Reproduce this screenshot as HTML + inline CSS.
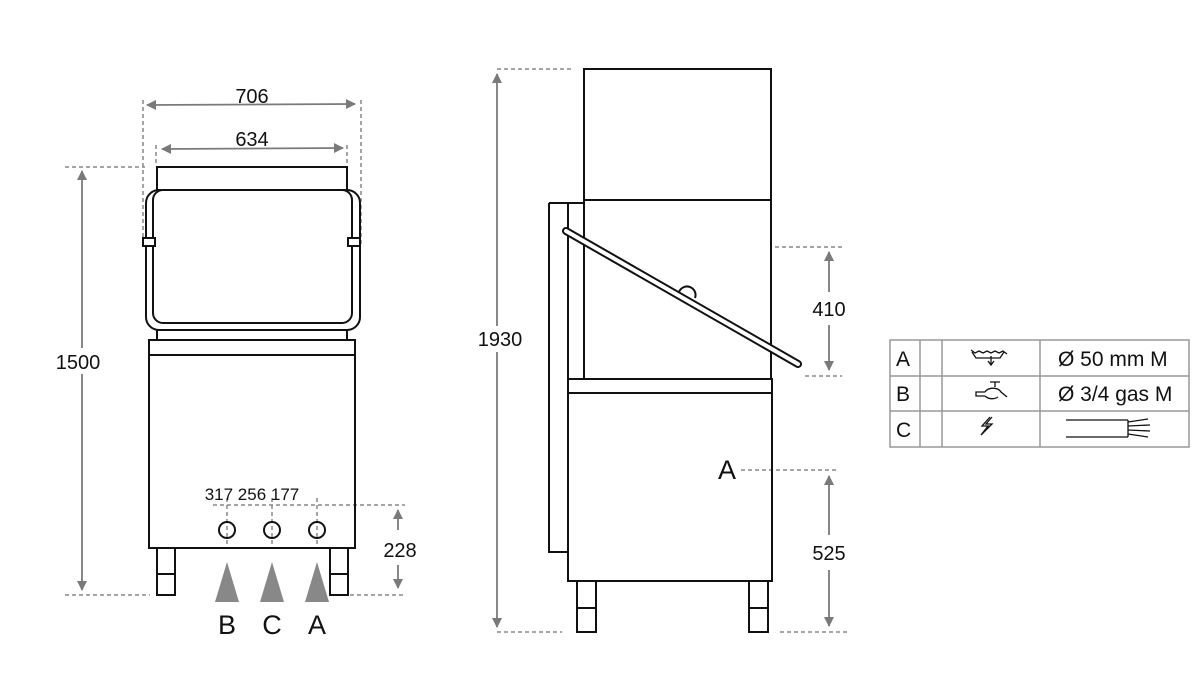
<!DOCTYPE html>
<html><head><meta charset="utf-8"><style>
html,body{margin:0;padding:0;background:#fff;}
svg{display:block;font-family:"Liberation Sans",sans-serif;}
</style></head><body>
<svg width="1200" height="700" viewBox="0 0 1200 700" xmlns="http://www.w3.org/2000/svg">
<defs>
<marker id="ar" viewBox="0 0 10 10" refX="9" refY="5" markerWidth="14" markerHeight="10" markerUnits="userSpaceOnUse" orient="auto-start-reverse">
<path d="M0,0 L10,5 L0,10 z" fill="#7a7a7a"/></marker>
</defs>
<g stroke="#888" stroke-width="1.5" stroke-dasharray="4,3" fill="none">
<line x1="143" y1="100" x2="143" y2="245"/><line x1="361" y1="100" x2="361" y2="245"/>
<line x1="156" y1="145" x2="156" y2="165"/><line x1="347" y1="145" x2="347" y2="165"/>
<line x1="65" y1="167" x2="145" y2="167"/><line x1="65" y1="595" x2="150" y2="595"/>
<line x1="213" y1="505" x2="405" y2="505"/><line x1="350" y1="595" x2="405" y2="595"/>
<line x1="227" y1="498" x2="227" y2="545"/><line x1="272" y1="498" x2="272" y2="545"/><line x1="317" y1="498" x2="317" y2="545"/>
<line x1="497" y1="69" x2="572" y2="69"/><line x1="497" y1="632" x2="562" y2="632"/>
<line x1="775" y1="247" x2="842" y2="247"/><line x1="805" y1="376" x2="842" y2="376"/>
<line x1="741" y1="470" x2="838" y2="470"/><line x1="780" y1="632" x2="850" y2="632"/>
</g>
<g stroke="#7a7a7a" stroke-width="1.8" fill="none">
<line x1="147" y1="105" x2="355" y2="104" marker-start="url(#ar)" marker-end="url(#ar)"/>
<line x1="162" y1="149" x2="343" y2="148" marker-start="url(#ar)" marker-end="url(#ar)"/>
<line x1="82" y1="171" x2="82" y2="590" marker-start="url(#ar)" marker-end="url(#ar)"/>
<line x1="398" y1="510" x2="398" y2="530" marker-start="url(#ar)"/>
<line x1="398" y1="565" x2="398" y2="588" marker-end="url(#ar)"/>
<line x1="497" y1="74" x2="497" y2="627" marker-start="url(#ar)" marker-end="url(#ar)"/>
<line x1="829" y1="252" x2="829" y2="292" marker-start="url(#ar)"/>
<line x1="829" y1="325" x2="829" y2="370" marker-end="url(#ar)"/>
<line x1="829" y1="476" x2="829" y2="535" marker-start="url(#ar)"/>
<line x1="829" y1="570" x2="829" y2="626" marker-end="url(#ar)"/>
</g>
<rect x="54" y="348" width="50" height="26" fill="#fff"/>
<rect x="476" y="326" width="50" height="26" fill="#fff"/>
<g font-size="20" fill="#111" text-anchor="middle">
<text x="252" y="103">706</text><text x="252" y="146">634</text>
<text x="78" y="369">1500</text><text x="400" y="557">228</text>
<text x="500" y="346">1930</text><text x="829" y="316">410</text><text x="829" y="560">525</text>
<text x="252" y="500" font-size="17">317 256 177</text>
<text x="227" y="634" font-size="27">B</text><text x="272" y="634" font-size="27">C</text><text x="317" y="634" font-size="27">A</text>
<text x="727" y="479" font-size="27">A</text>
</g>
<g stroke="#111" stroke-width="2" fill="none">
<rect x="157" y="167" width="190" height="23"/>
<rect x="146" y="190" width="214" height="140" rx="13"/>
<rect x="153" y="190" width="199" height="133" rx="10"/>
<rect x="143" y="238" width="12" height="8" fill="#fff"/><rect x="348" y="238" width="12" height="8" fill="#fff"/>
<line x1="157" y1="330" x2="157" y2="340"/><line x1="347" y1="330" x2="347" y2="340"/>
<rect x="149" y="340" width="206" height="208"/><line x1="149" y1="355" x2="355" y2="355"/>
<rect x="157" y="548" width="18" height="47"/><line x1="157" y1="574" x2="175" y2="574"/>
<rect x="330" y="548" width="18" height="47"/><line x1="330" y1="574" x2="348" y2="574"/>
<circle cx="227" cy="530" r="8"/><circle cx="272" cy="530" r="8"/><circle cx="317" cy="530" r="8"/>
</g>
<g fill="#888">
<polygon points="227,562 215,602 239,602"/><polygon points="272,562 260,602 284,602"/><polygon points="317,562 305,602 329,602"/>
</g>
<g stroke="#111" stroke-width="2" fill="none">
<rect x="584" y="69" width="187" height="131"/>
<line x1="584" y1="200" x2="584" y2="380"/><line x1="771" y1="200" x2="771" y2="380"/>
<line x1="549" y1="203" x2="584" y2="203"/>
<polyline points="549,203 549,552 568,552"/>
<line x1="568" y1="203" x2="568" y2="552"/>
<rect x="568" y="379" width="204" height="202"/><line x1="568" y1="393" x2="772" y2="393"/>
<rect x="577" y="581" width="19" height="51"/><line x1="577" y1="608" x2="596" y2="608"/>
<rect x="749" y="581" width="19" height="51"/><line x1="749" y1="608" x2="768" y2="608"/>
<path d="M679,292 a8,8 0 0 1 16,6"/>
<line x1="566" y1="231" x2="798" y2="364" stroke-width="8" stroke-linecap="round"/>
<line x1="566" y1="231" x2="798" y2="364" stroke="#fff" stroke-width="4" stroke-linecap="round"/>
</g>
<g stroke="#999" stroke-width="1.5" fill="none">
<rect x="890" y="340" width="299" height="107"/>
<line x1="890" y1="376" x2="1189" y2="376"/><line x1="890" y1="411" x2="1189" y2="411"/>
<line x1="920" y1="340" x2="920" y2="447"/><line x1="942" y1="340" x2="942" y2="447"/><line x1="1040" y1="340" x2="1040" y2="447"/>
</g>
<g font-size="21" fill="#111">
<text x="896" y="366">A</text><text x="896" y="401">B</text><text x="896" y="437">C</text>
<text x="1058" y="366">Ø 50 mm M</text><text x="1058" y="401">Ø 3/4 gas M</text>
</g>
<g stroke="#111" stroke-width="1.3" fill="none">
<path d="M971,350 l4,3 l4,-2 l4,2 l4,-2 l4,2 l4,-2 l4,2 l4,-2 l4,3 M972,352 l4,6 h24 l4,-6 M991,356 v8 M988,361 l3,4 l3,-4"/>
<path d="M990,382 h10 M995,382 v5 M985,392 h-9 v4 h9 M985,392 a9,7 0 0 1 16,0 l6,5 M985,396 a9,7 0 0 0 13,1"/>
<path d="M990,417 l-8,9 l6,0 l-7,9 l11,-11 l-6,0 l6,-7"/>
<path d="M1066,420 h62 M1066,437 h62 M1128,420 v17 M1128,422 l20,-3 M1128,426 l22,-1 M1128,430 l22,1 M1128,434 l20,3"/>
</g>
</svg>
</body></html>
